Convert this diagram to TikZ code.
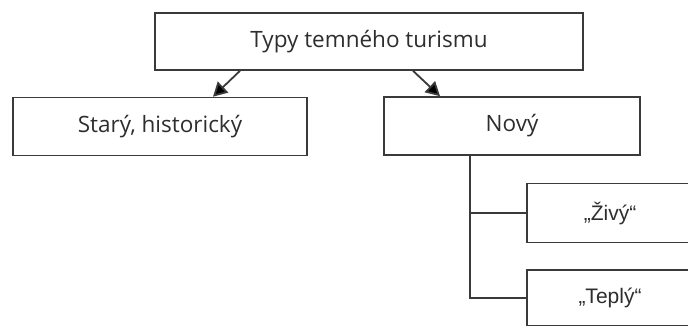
\documentclass[tikz,border=0pt]{standalone}
\usepackage{fontspec}
\setmainfont{Liberation Sans}
\newfontfamily\widefont{Open Sans}
\usetikzlibrary{arrows.meta}
\definecolor{linec}{HTML}{3A3A3A}
\definecolor{textc}{HTML}{2E2E2E}
\begin{document}
\begin{tikzpicture}[x=1pt,y=-1pt,
  box/.style={draw=linec,line width=1.6pt,rectangle,inner sep=0pt,text=textc,
    font=\widefont\fontsize{22.5}{26}\selectfont},
  qbox/.style={box,font=\fontsize{21}{26}\selectfont},
  conn/.style={draw=linec,line width=1.6pt},
  arr/.style={conn,line width=1.8pt,-{Triangle[length=14pt,width=15pt,fill=black]}}]
\useasboundingbox (0,0) rectangle (688,325);
\clip (0,0) rectangle (688,325);
\fill[white] (0,0) rectangle (688,325);
\node[box,minimum width=428pt,minimum height=57pt] (top) at (369,41.5) {Typy temného turismu};
\node[box,minimum width=294pt,minimum height=58pt] (stary) at (160,126.5) {Starý, historický};
\node[box,minimum width=256pt,minimum height=58pt] (novy) at (512,126) {Nový};
\node[qbox,minimum width=166pt,minimum height=59pt] (zivy) at (610,213) {„Živý“};
\node[qbox,minimum width=166pt,minimum height=56pt] (teply) at (610,298) {„Teplý“};
\coordinate (a1) at (top.south -| 240,0);
\coordinate (b1) at (stary.north -| 213,0);
\coordinate (a2) at (top.south -| 413,0);
\coordinate (b2) at (novy.north -| 440,0);
\coordinate (n1) at (novy.south -| 470,0);
\draw[arr] (a1) -- (b1);
\draw[arr] (a2) -- (b2);
\draw[conn] (n1) |- (zivy.west);
\draw[conn] (n1) |- (teply.west);
\end{tikzpicture}
\end{document}
